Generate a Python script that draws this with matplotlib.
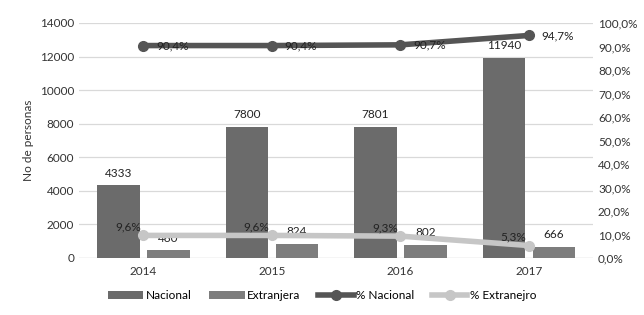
import matplotlib
matplotlib.use("Agg")
import matplotlib.pyplot as plt
import numpy as np

years = ["2014", "2015", "2016", "2017"]
nacional = [4333, 7800, 7801, 11940]
extranjera = [460, 824, 802, 666]
pct_nacional = [90.4, 90.4, 90.7, 94.7]
pct_extranjero = [9.6, 9.6, 9.3, 5.3]

plt.rcParams['font.family'] = ['Lato', 'DejaVu Sans']

fig = plt.figure(figsize=(6.44, 3.15), dpi=100)
ax = fig.add_axes([0.123, 0.181, 0.798, 0.746])
x = np.arange(len(years))
w = 0.33
off = 0.195
c_nac = "#6b6b6b"
c_ext = "#7d7d7d"
b1 = ax.bar(x - off, nacional, w, color=c_nac, label="Nacional", zorder=2)
b2 = ax.bar(x + off, extranjera, w, color=c_ext, label="Extranjera", zorder=2)
ax.set_ylim(0, 14000)
ax.set_yticks(range(0, 14001, 2000))
ax.set_xlim(-0.5, 3.5)
ax.set_xticks(x)
ax.set_xticklabels(years)
ax.grid(axis='y', color='#d9d9d9', lw=0.9, zorder=0)
ax.set_axisbelow(True)
for s in ax.spines.values():
    s.set_visible(False)
ax.axhline(0, color='#d9d9d9', lw=0.9, zorder=1)
ax.tick_params(length=0, labelsize=8.5, colors='#333333')
ax.tick_params(axis='x', pad=6)
ax.set_ylabel("No de personas", fontsize=8.5, color='#333333', labelpad=4)
for xi, v in zip(x - off, nacional):
    ax.text(xi, v + 400, str(v), ha='center', va='bottom', fontsize=8.5, color='#222222')
for xi, v in zip(x + off, extranjera):
    ax.text(xi, v + 400, str(v), ha='center', va='bottom', fontsize=8.5, color='#222222')

ax2 = ax.twinx()
ax2.set_ylim(0, 100)
ax2.set_yticks(range(0, 101, 10))
ax2.set_yticklabels([f"{v},0%" for v in range(0, 101, 10)])
for s in ax2.spines.values():
    s.set_visible(False)
ax2.tick_params(length=0, labelsize=8.5, colors='#333333')
l1, = ax2.plot(x, pct_nacional, color='#555555', lw=4, marker='o', ms=7, label="% Nacional", zorder=3)
l2, = ax2.plot(x, pct_extranjero, color='#c6c6c6', lw=4, marker='o', ms=7, label="% Extranejro", zorder=3)
for xi, v in zip(x, pct_nacional):
    ax2.text(xi + 0.1, v, f"{v:.1f}%".replace('.', ','), ha='left', va='center', fontsize=8.5, color='#222222')
for xi, v in zip(x, pct_extranjero):
    ax2.text(xi - 0.02, v + 3.5, f"{v:.1f}%".replace('.', ','), ha='right', va='center', fontsize=8.5, color='#222222')

fig.legend(handles=[b1, b2, l1, l2], loc='lower center', bbox_to_anchor=(0.5, 0.01), ncol=4,
           frameon=False, fontsize=8.5, handlelength=3, columnspacing=1.5, handletextpad=0.2)
fig.savefig("out.png", dpi=100)
